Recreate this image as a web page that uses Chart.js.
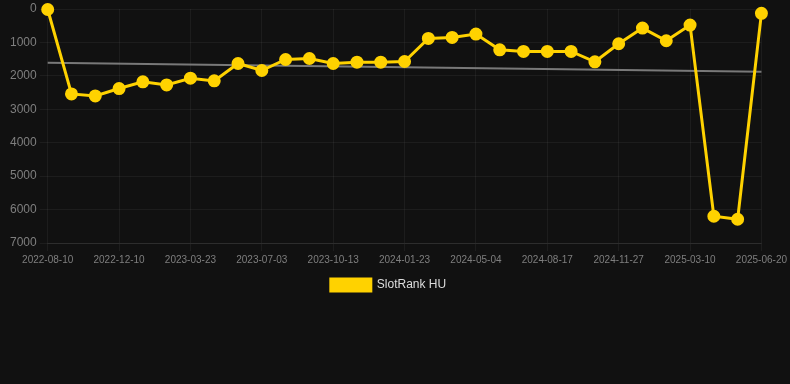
<!DOCTYPE html>
<html>
<head>
<meta charset="utf-8">
<script src="https://cdn.jsdelivr.net/npm/chart.js@4"></script>
<style>
  html, body { margin: 0; padding: 0; background: #111111; }
  #wrap { width: 790px; height: 301px; position: relative; }
</style>
</head>
<body>
<div id="wrap"><canvas id="rankChart"></canvas></div>
<script>
const dates = [
  '2022-08-10', '2022-09-20', '2022-10-30', '2022-12-10', '2023-01-13', '2023-02-16',
  '2023-03-23', '2023-04-26', '2023-05-30', '2023-07-03', '2023-08-06', '2023-09-09',
  '2023-10-13', '2023-11-16', '2023-12-20', '2024-01-23', '2024-02-26', '2024-03-31',
  '2024-05-04', '2024-06-07', '2024-07-12', '2024-08-17', '2024-09-20', '2024-10-24',
  '2024-11-27', '2024-12-31', '2025-02-04', '2025-03-10', '2025-04-13', '2025-05-17',
  '2025-06-20'
];

const rankHU = [
  15, 2540, 2600, 2380, 2180, 2270, 2070, 2150, 1630, 1840, 1510,
  1480, 1630, 1590, 1590, 1570, 880, 850, 750, 1220, 1270, 1270,
  1270, 1580, 1040, 570, 950, 480, 6200, 6290, 130
];

// trend line end points
const trendStart = 1610;
const trendEnd = 1875;

const yTicks = [0, 1000, 2000, 3000, 4000, 5000, 6000, 7000];

const gold = '#ffd200';
const gridColor = 'rgba(255,255,255,0.05)';

const ctx = document.getElementById('rankChart').getContext('2d');
const chart = new Chart(ctx, {
    type: 'line',
    data: {
        labels: dates,
        datasets: [{
            label: 'SlotRank HU',
            data: rankHU,
            borderColor: gold,
            backgroundColor: gold,
            borderWidth: 3,
            pointRadius: 5,
            pointHoverRadius: 6,
            tension: 0,
            clip: false,
            order: 1
        }, {
            label: 'trend',
            data: [
                { x: dates[0], y: trendStart },
                { x: dates[dates.length - 1], y: trendEnd }
            ],
            borderColor: 'rgba(140,140,140,0.85)',
            borderWidth: 2,
            pointRadius: 0,
            tension: 0,
            order: 2
        }]
    },
    options: {
        responsive: true,
        maintainAspectRatio: false,
        animation: false,
        layout: { padding: { top: 0, right: 20, left: 7, bottom: 0 } },
        plugins: {
            legend: {
                position: 'bottom',
                labels: {
                    color: '#dddddd',
                    font: { family: 'Arial, Liberation Sans, sans-serif', size: 12 },
                    boxWidth: 40,
                    boxHeight: 12,
                    filter: item => item.text !== 'trend'
                }
            },
            tooltip: { enabled: false }
        },
        scales: {
            x: {
                grid: { color: c => (c.index % 3 === 0 ? gridColor : 'transparent') },
                border: { color: 'rgba(255,255,255,0.08)' },
                ticks: {
                    color: '#7f7f7f',
                    font: { family: 'Arial, Liberation Sans, sans-serif', size: 10 },
                    autoSkip: false,
                    maxRotation: 0,
                    callback: function (val, i) {
                        return i % 3 === 0 ? this.getLabelForValue(val) : '';
                    }
                }
            },
            y: {
                reverse: true,
                min: 0,
                max: 7000,
                afterBuildTicks: axis => { axis.ticks = yTicks.map(v => ({ value: v })); },
                afterFit: axis => { axis.paddingTop = 3; },
                grid: { color: gridColor },
                border: { display: false },
                ticks: {
                    color: '#7f7f7f',
                    font: { family: 'Arial, Liberation Sans, sans-serif', size: 12 },
                    callback: v => String(v)
                }
            }
        }
    }
});
</script>
</body>
</html>
